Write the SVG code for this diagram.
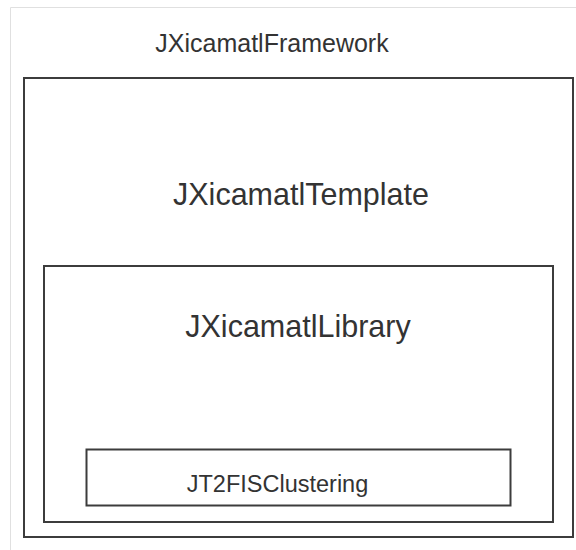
<svg xmlns="http://www.w3.org/2000/svg" width="576" height="550" viewBox="0 0 576 550">
<style>
.box{fill:#fff;stroke:#3c3c3c;stroke-width:2}
.t{font-family:"Liberation Sans",Arial,sans-serif;fill:#333;text-anchor:middle}
</style>
<rect width="576" height="550" fill="#fff"/>
<path d="M10.5 560 V7.5 H590" fill="none" stroke="#e0e0e0" stroke-width="1"/>
<g id="JXicamatlFramework">
<text class="t" x="272" y="52" font-size="25">JXicamatlFramework</text>
<rect class="box" x="24" y="78" width="549" height="459"/>
</g>
<g id="JXicamatlTemplate">
<text class="t" x="301" y="205" font-size="30.5">JXicamatlTemplate</text>
</g>
<g id="JXicamatlLibrary">
<rect class="box" x="44" y="266" width="509" height="256"/>
<text class="t" x="298" y="337" font-size="30.5">JXicamatlLibrary</text>
</g>
<g id="JT2FISClustering">
<rect class="box" x="86.5" y="449.5" width="424" height="56"/>
<text class="t" x="277.5" y="492" font-size="23.5">JT2FISClustering</text>
</g>
<g id="connectors"></g>
</svg>
